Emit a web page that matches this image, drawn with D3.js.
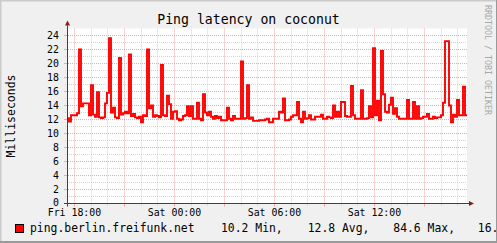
<!DOCTYPE html>
<html><head><meta charset="utf-8">
<script src="https://cdn.jsdelivr.net/npm/d3@7"></script>
<style>
html,body{margin:0;padding:0;background:#f0f0f0;}
svg{display:block;}
text{font-family:"DejaVu Sans Mono",monospace;}
</style></head>
<body><svg id="c" width="497" height="243"></svg>
<script>
// ---- data ----
const chartTitle = "Ping latency on coconut";
const yAxisTitle = "Milliseconds";
const seriesName = "ping.berlin.freifunk.net";
const legendStats = ["10.2 Min,", "12.8 Avg,", "84.6 Max,", "16."];
const watermark = "RRDTOOL / TOBI OETIKER";
const startTime = Date.UTC(2014, 0, 3, 17, 35); // Fri 17:35
const spanHours = 24;
const yTicks = [0,2,4,6,8,10,12,14,16,18,20,22,24];
const yMinorTicks = [1,3,5,7,9,11,13,15,17,19,21,23];
const latency = [
12.2,11.7,12.6,12.6,12.6,12.9,22.0,13.9,14.3,14.3,
14.3,12.6,16.9,12.7,12.4,15.9,12.3,12.2,12.3,14.3,
15.8,23.6,13.0,13.7,12.3,12.2,20.8,12.7,12.9,13.1,
12.9,21.3,12.5,12.8,12.3,12.2,12.4,11.6,12.6,12.5,
22.0,13.6,14.0,12.4,12.6,12.5,12.3,19.8,12.6,12.5,
15.4,14.2,12.1,13.1,13.2,12.1,11.9,12.0,12.5,12.6,
13.9,12.5,13.9,12.1,12.1,14.4,12.1,11.9,15.6,13.0,
12.6,13.1,12.4,12.1,12.5,12.2,12.4,11.9,11.9,11.9,
13.7,12.1,11.9,12.5,12.1,12.1,12.1,20.3,12.1,12.2,
16.9,12.1,12.3,11.8,11.8,11.8,11.9,11.9,11.9,12.0,
12.1,11.6,11.6,12.1,12.1,12.1,13.1,13.0,15.0,11.9,
11.9,12.0,12.4,12.6,12.6,14.5,12.1,11.6,13.1,12.1,
12.2,12.6,12.0,12.0,12.4,12.4,12.4,12.7,12.1,12.1,
12.4,12.3,12.2,14.0,12.4,13.1,12.4,14.5,14.5,12.5,
12.4,12.4,16.8,12.6,12.1,12.1,12.1,16.2,12.1,12.1,
12.2,13.9,12.3,22.2,12.6,14.7,11.9,21.8,15.6,13.1,
13.0,14.1,15.1,12.8,13.6,12.4,12.1,12.1,12.1,12.1,
14.8,12.1,12.1,14.5,12.1,13.9,12.1,12.2,12.4,12.4,
12.8,12.1,12.1,12.4,12.2,12.3,12.3,12.6,14.4,23.2,
23.2,14.0,11.6,12.7,12.4,14.8,12.6,12.6,16.7,12.6
];

// ---- layout ----
const W = 497, H = 243;
const L = 67, R = 467, T = 28.5, B = 203.5;
const svg = d3.select("#c");
const endTime = startTime + spanHours * 3600e3;
const stepMs = (endTime - startTime) / latency.length;
const pts = latency.map((v, i) => ({t: new Date(startTime + i * stepMs), v}));
pts.push({t: new Date(endTime), v: latency[latency.length - 1]});

const x = d3.scaleUtc().domain([new Date(startTime), new Date(endTime)]).range([L, R]);
const y = d3.scaleLinear().domain([0, 25]).range([B, T]);

// background + 3D border
svg.append("rect").attr("width", W).attr("height", H).attr("fill", "#f0f0f0");
svg.append("rect").attr("x", L).attr("y", T).attr("width", R - L).attr("height", B - T).attr("fill", "#fff");
svg.append("path").attr("d", `M0.5,${H}V0.5H${W}`).attr("stroke", "#cbcbcb").attr("stroke-width", 2).attr("fill", "none");

const minorCol = "#d4d4d4", majorCol = "#f2a8a8";
const crisp = v => Math.round(v) + 0.5;

// vertical grid
const minorH = d3.utcHour.every(1).range(new Date(startTime), new Date(endTime)).filter(d => d.getUTCHours() % 3 !== 0);
const majorH = d3.utcHour.every(3).range(new Date(startTime), new Date(endTime));
svg.append("g").selectAll("line").data(minorH).join("line")
  .attr("x1", d => crisp(x(d))).attr("x2", d => crisp(x(d))).attr("y1", T).attr("y2", B)
  .attr("stroke", minorCol).attr("stroke-dasharray", "1,1");
svg.append("g").selectAll("line").data(minorH).join("line")
  .attr("x1", d => crisp(x(d))).attr("x2", d => crisp(x(d))).attr("y1", B).attr("y2", B + 2)
  .attr("stroke", minorCol);
svg.append("g").selectAll("line").data(majorH).join("line")
  .attr("x1", d => crisp(x(d))).attr("x2", d => crisp(x(d))).attr("y1", T).attr("y2", B)
  .attr("stroke", majorCol).attr("stroke-dasharray", "1,1");
svg.append("g").selectAll("line").data(majorH).join("line")
  .attr("x1", d => crisp(x(d))).attr("x2", d => crisp(x(d))).attr("y1", B).attr("y2", B + 3)
  .attr("stroke", majorCol);

// horizontal grid
svg.append("g").selectAll("line").data(yMinorTicks).join("line")
  .attr("x1", L - 2).attr("x2", R).attr("y1", d => y(d)).attr("y2", d => y(d))
  .attr("stroke", minorCol).attr("stroke-dasharray", "1,1");
svg.append("g").selectAll("line").data(yTicks.filter(d => d > 0)).join("line")
  .attr("x1", L - 3).attr("x2", R).attr("y1", d => y(d)).attr("y2", d => y(d))
  .attr("stroke", majorCol).attr("stroke-dasharray", "1,1");
svg.append("g").selectAll("line").data(yTicks).join("line")
  .attr("x1", L - 3).attr("x2", L).attr("y1", d => y(d)).attr("y2", d => y(d))
  .attr("stroke", majorCol);

// data line
svg.append("clipPath").attr("id", "clip").append("rect").attr("x", L).attr("y", T - 1).attr("width", R - L).attr("height", B - T + 1);
const line = d3.line().x(d => x(d.t)).y(d => y(d.v)).curve(d3.curveStepAfter);
svg.append("path").datum(pts).attr("d", line).attr("fill", "none")
  .attr("stroke", "#ff0000").attr("stroke-width", 1.9).attr("clip-path", "url(#clip)");

// axes
const xAxis = d3.axisBottom(x).ticks(d3.utcHour.every(6)).tickFormat(d3.utcFormat("%a %H:%M")).tickSize(0).tickPadding(5.5);
const gx = svg.append("g").attr("transform", `translate(0,${B})`).call(xAxis);
gx.select(".domain").remove();
gx.selectAll("text").attr("font-size", "9.9px").attr("fill", "#000").attr("font-family", "DejaVu Sans Mono");

const yAxis = d3.axisLeft(y).tickValues(yTicks).tickSize(0).tickPadding(8);
const gy = svg.append("g").attr("transform", `translate(${L},0)`).call(yAxis);
gy.select(".domain").remove();
gy.selectAll("text").attr("font-size", "9.9px").attr("fill", "#000").attr("font-family", "DejaVu Sans Mono");
gy.selectAll(".tick").filter(d => d === 0).select("text").attr("dy", "0.2em");

// axis lines and arrows
const axisCol = "#404040", arrowCol = "#8b1a1a";
svg.append("line").attr("x1", L - 3).attr("x2", R + 3).attr("y1", B).attr("y2", B).attr("stroke", axisCol);
svg.append("line").attr("x1", L + 0.5).attr("x2", L + 0.5).attr("y1", B + 3).attr("y2", T - 3).attr("stroke", axisCol);
svg.append("path").attr("d", `M${R+2},${B-2.5}L${R+7},${B}L${R+2},${B+2.5}Z`).attr("fill", arrowCol);
svg.append("path").attr("d", `M${L+0.5-2.5},${T-3}L${L+0.5},${T-8}L${L+0.5+2.5},${T-3}Z`).attr("fill", arrowCol);

// title
svg.append("text").attr("x", W / 2).attr("y", 24).attr("text-anchor", "middle")
  .attr("font-size", "13.2px").attr("fill", "#000").text(chartTitle);
// y title
svg.append("text").attr("transform", `translate(15,${(T + B) / 2}) rotate(-90)`).attr("text-anchor", "middle")
  .attr("font-size", "11.5px").attr("fill", "#000").text(yAxisTitle);
// watermark
svg.append("text").attr("transform", `translate(485,5) rotate(90)`).attr("text-anchor", "start")
  .attr("font-size", "8.3px").attr("fill", "#a8a8a8").text(watermark);

// legend
svg.append("rect").attr("x", 15.5).attr("y", 224.5).attr("width", 8).attr("height", 8)
  .attr("fill", "#ff0000").attr("stroke", "#000");
svg.append("text").attr("x", 30).attr("y", 232).attr("font-size", "11.4px").attr("fill", "#000").text(seriesName);
const statX = [221, 307.7, 393.3, 477.8];
svg.append("g").selectAll("text").data(legendStats).join("text")
  .attr("x", (d, i) => statX[i]).attr("y", 232).attr("font-size", "11.4px").attr("fill", "#000").text(d => d);
// right / bottom border (darker shade)
svg.append("rect").attr("x", 0).attr("y", H - 2).attr("width", W).attr("height", 2).attr("fill", "#999");
svg.append("rect").attr("x", W - 1).attr("y", 0).attr("width", 1).attr("height", H).attr("fill", "#999");
</script></body></html>
